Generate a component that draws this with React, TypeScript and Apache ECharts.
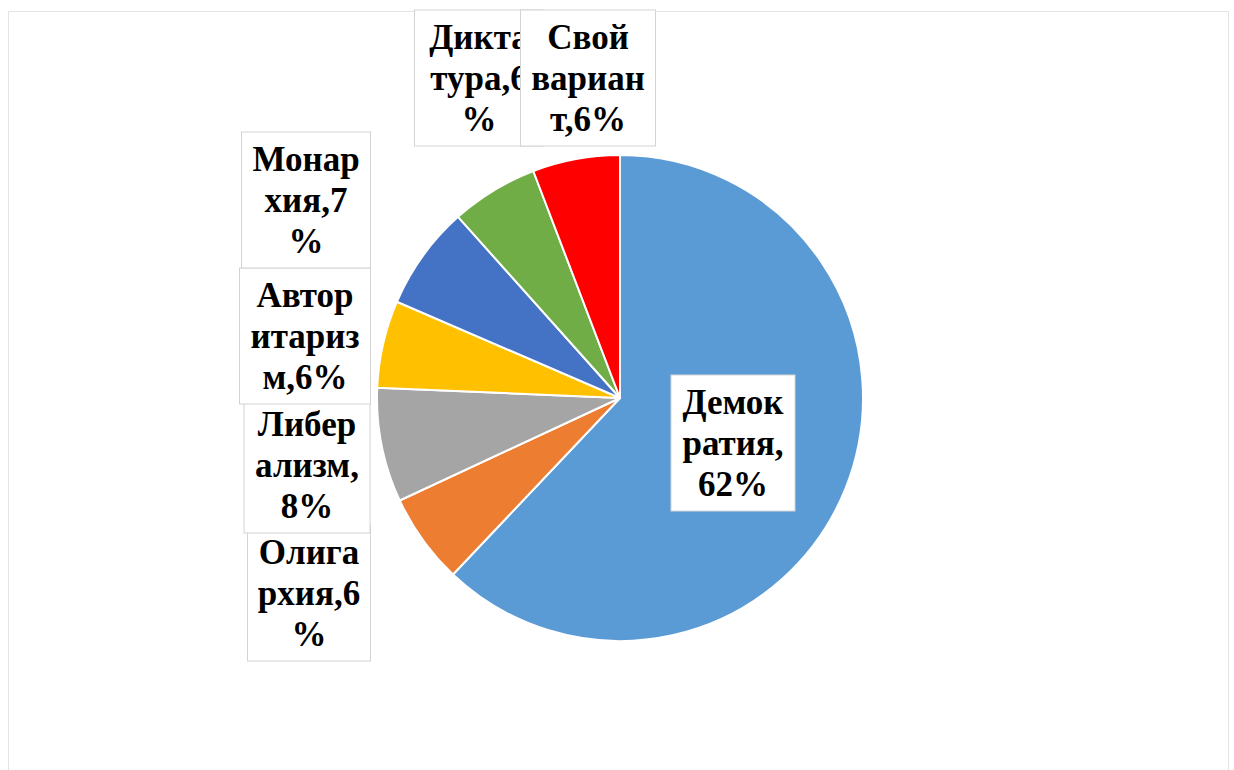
import React, { useEffect, useRef } from "react";
import * as echarts from "echarts";

const categories = ["Демократия", "Олигархия", "Либерализм", "Авторитаризм", "Монархия", "Диктатура", "Свой вариант"];
const values = [62, 6, 7.6, 5.8, 6.9, 5.8, 5.8];
const colors = ["#5B9BD5", "#ED7D31", "#A5A5A5", "#FFC000", "#4472C4", "#70AD47", "#FF0000"];

// how the label text wraps: characters per line (layout only)
const lineLengths = [
  [5, 6, 3],
  [5, 6, 1],
  [5, 6, 2],
  [5, 6, 4],
  [5, 5, 1],
  [5, 6, 1],
  [5, 6, 4],
];
// label box centres and text widths (layout only)
const labelCenters: [number, number][] = [
  [733, 443],
  [309, 593],
  [307, 465],
  [305, 336],
  [306, 200],
  [479, 78],
  [588, 78],
];
const labelWidths = [107, 106, 109, 114, 112, 112, 118];

function wrap(text: string, lens: number[]) {
  const out: string[] = [];
  let pos = 0;
  lens.forEach((n, k) => {
    let part = text.slice(pos, pos + n);
    pos += n;
    if (k === lens.length - 1) part = text.slice(pos - n);
    out.push(part.trim());
  });
  return out.join("\n");
}

export default function App() {
  const ref = useRef<HTMLDivElement>(null);
  useEffect(() => {
    if (!ref.current) return;
    const chart = echarts.init(ref.current, null, { renderer: "svg" });
    const data = categories.map((name, i) => ({
      name,
      value: values[i],
      itemStyle: { color: colors[i] },
      label: { width: labelWidths[i] },
    }));
    chart.setOption({
      animation: false,
      graphic: [
        {
          type: "rect",
          shape: { x: 8.5, y: 11.5, width: 1220, height: 800 },
          style: { fill: "none", stroke: "#e3e3e3", lineWidth: 1 },
          z: -10,
        },
      ],
      series: [
        {
          type: "pie",
          center: [620, 398],
          radius: 243,
          startAngle: 90,
          clockwise: true,
          avoidLabelOverlap: false,
          itemStyle: { borderColor: "#ffffff", borderWidth: 2 },
          labelLine: { show: false },
          label: {
            show: true,
            position: "outside",
            formatter: (p: any) => wrap(`${p.name},${Math.round(p.value)}%`, lineLengths[p.dataIndex]),
            overflow: "none",
            fontFamily: "'Liberation Serif', 'Times New Roman', serif",
            fontWeight: "bold",
            fontSize: 35,
            lineHeight: 41,
            color: "#000000",
            align: "center",
            backgroundColor: "#ffffff",
            borderColor: "#d3d3d3",
            borderWidth: 1,
            padding: [6, 8],
          },
          labelLayout: (params: any) => {
            const c = labelCenters[params.dataIndex];
            return { x: c[0], y: c[1], align: "center", verticalAlign: "middle" };
          },
          emphasis: { disabled: true },
          data,
        },
      ],
    });
    return () => chart.dispose();
  }, []);
  return (
    <div
      ref={ref}
      style={{ position: "fixed", left: 0, top: 0, width: 1234, height: 770, background: "#ffffff" }}
    />
  );
}
